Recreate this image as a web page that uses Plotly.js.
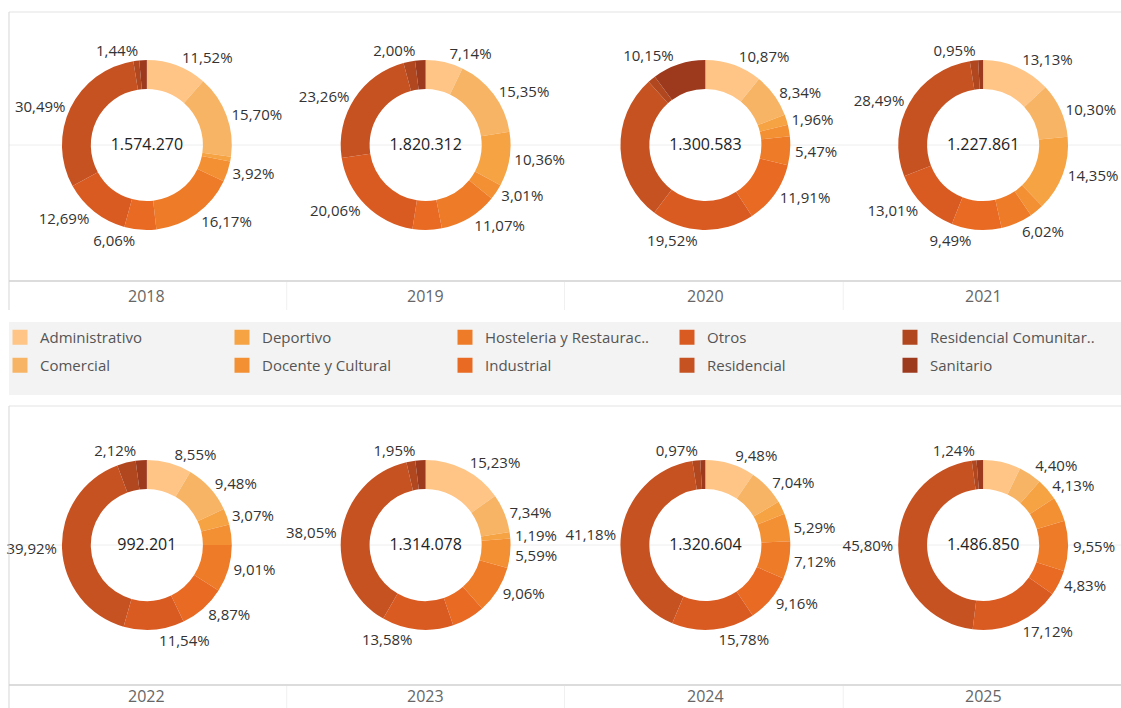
<!DOCTYPE html>
<html>
<head>
<meta charset="utf-8">
<script src="https://cdn.plot.ly/plotly-3.0.1.min.js"></script>
<style>
html,body{margin:0;padding:0;background:#ffffff;}
#chart{width:1121px;height:708px;}
#chart path.textline{display:none;}
</style>
</head>
<body>
<div id="chart"></div>
<script>
// ---------- DATA ----------
const categories = ['Administrativo','Comercial','Deportivo','Docente y Cultural','Hosteleria y Restauración','Industrial','Otros','Residencial','Residencial Comunitaria','Sanitario'];
const legendNames = ['Administrativo','Comercial','Deportivo','Docente y Cultural','Hosteleria y Restaurac..','Industrial','Otros','Residencial','Residencial Comunitar..','Sanitario'];
const years = ['2018','2019','2020','2021','2022','2023','2024','2025'];
const totals = ['1.574.270','1.820.312','1.300.583','1.227.861','992.201','1.314.078','1.320.604','1.486.850'];

// share (%) per category, in category order
const pct2018 = [11.52, 15.70, 0.90, 3.92, 16.17, 6.06, 12.69, 30.49, 1.11, 1.44];
const pct2019 = [7.14, 15.35, 10.36, 3.01, 11.07, 5.55, 20.06, 23.26, 2.20, 2.00];
const pct2020 = [10.87, 8.34, 1.96, 2.20, 5.47, 11.91, 19.52, 28.08, 1.50, 10.15];
const pct2021 = [13.13, 10.30, 14.35, 2.70, 6.02, 9.49, 13.01, 28.49, 1.56, 0.95];
const pct2022 = [8.55, 9.48, 3.07, 3.90, 9.01, 8.87, 11.54, 39.92, 3.54, 2.12];
const pct2023 = [15.23, 7.34, 1.19, 5.59, 9.06, 6.32, 13.58, 38.05, 1.69, 1.95];
const pct2024 = [9.48, 7.04, 2.50, 5.29, 7.12, 9.16, 15.78, 41.18, 1.48, 0.97];
const pct2025 = [7.15, 4.40, 4.13, 4.68, 9.55, 4.83, 17.12, 45.80, 0.90, 1.24];

// category indexes whose label is not printed in the reference
const hidden2018 = [2, 8];
const hidden2019 = [5, 8];
const hidden2020 = [3, 7, 8];
const hidden2021 = [3, 8];
const hidden2022 = [3, 8];
const hidden2023 = [5, 8];
const hidden2024 = [2, 8];
const hidden2025 = [0, 3, 8];

// ---------- STYLE ----------
const colors = ['#fec586','#f7b465','#f6a344','#f39034','#ee7b27','#e86a23','#da5b22','#c65222','#b0471f','#9d3a1e'];
const W = 1121, H = 708;
const FONT = 'Open Sans, Noto Sans, sans-serif';
const px = x => x / W;
const py = y => 1 - y / H;

const allPct = [pct2018,pct2019,pct2020,pct2021,pct2022,pct2023,pct2024,pct2025];
const allHidden = [hidden2018,hidden2019,hidden2020,hidden2021,hidden2022,hidden2023,hidden2024,hidden2025];

const colX = [146, 425, 705, 983];
const rowY = [145, 545];
const R = 85;

const fmt = v => v.toFixed(2).replace('.', ',') + '%';

const traces = [];
allPct.forEach((vals, i) => {
  const cx = colX[i % 4], cy = rowY[Math.floor(i / 4)];
  traces.push({
    type: 'pie',
    name: years[i],
    labels: categories,
    values: vals,
    text: vals.map((v, k) => allHidden[i].includes(k) ? '' : fmt(v)),
    textinfo: 'text',
    textposition: 'outside',
    outsidetextfont: {family: FONT, size: 15, color: '#333333'},
    hole: 0.66,
    sort: false,
    direction: 'clockwise',
    rotation: 0,
    showlegend: false,
    marker: {colors: colors, line: {width: 0}},
    title: {text: totals[i], position: 'middle center', font: {family: FONT, size: 16, color: '#222222'}},
    domain: {x: [px(cx - R), px(cx + R)], y: [py(cy + R), py(cy - R)]},
    hovertemplate: '%{label}: %{text}<extra>' + years[i] + '</extra>'
  });
});

// legend-only entries: 5 columns of 2 entries, as in the reference
const legendIds = ['legend','legend2','legend3','legend4','legend5'];
const legendColLeft = [-1, 222, 445, 667, 890];
categories.forEach((c, k) => {
  traces.push({
    type: 'scatter', mode: 'markers',
    x: [null], y: [null],
    name: legendNames[k],
    legendgroup: 'g' + k,
    marker: {symbol: 'square', size: 15, color: colors[k]},
    legend: legendIds[Math.floor(k / 2)],
    showlegend: true,
    hoverinfo: 'skip'
  });
});

const lineC = '#e3e3e3';
const shapes = [
  // top panel
  {type:'line', xref:'paper', yref:'paper', x0:px(8), x1:px(1121), y0:py(12), y1:py(12), line:{color:lineC, width:1}},
  {type:'line', xref:'paper', yref:'paper', x0:px(8), x1:px(8), y0:py(12), y1:py(310), line:{color:'#d6d6d6', width:1}},
  {type:'line', xref:'paper', yref:'paper', x0:px(8), x1:px(1121), y0:py(rowY[0]), y1:py(rowY[0]), line:{color:'#eeeeee', width:1}, layer:'below'},
  {type:'line', xref:'paper', yref:'paper', x0:px(8), x1:px(1121), y0:py(281), y1:py(281), line:{color:'#d0d0d0', width:1.5}},
  // legend background
  {type:'rect', xref:'paper', yref:'paper', x0:px(8), x1:px(1121), y0:py(395), y1:py(322), fillcolor:'#f3f3f3', line:{width:0}, layer:'below'},
  // bottom panel
  {type:'line', xref:'paper', yref:'paper', x0:px(8), x1:px(1121), y0:py(406), y1:py(406), line:{color:lineC, width:1}},
  {type:'line', xref:'paper', yref:'paper', x0:px(8), x1:px(8), y0:py(406), y1:py(708), line:{color:'#d6d6d6', width:1}},
  {type:'line', xref:'paper', yref:'paper', x0:px(8), x1:px(1121), y0:py(rowY[1]), y1:py(rowY[1]), line:{color:'#eeeeee', width:1}, layer:'below'},
  {type:'line', xref:'paper', yref:'paper', x0:px(8), x1:px(1121), y0:py(685), y1:py(685), line:{color:'#d0d0d0', width:1.5}}
];
[286, 564, 843].forEach(x => {
  shapes.push({type:'line', xref:'paper', yref:'paper', x0:px(x), x1:px(x), y0:py(282), y1:py(310), line:{color:'#f0f0f0', width:1}});
  shapes.push({type:'line', xref:'paper', yref:'paper', x0:px(x), x1:px(x), y0:py(686), y1:py(708), line:{color:'#f0f0f0', width:1}});
});

const annotations = years.map((y, i) => ({
  text: y, showarrow: false, xref:'paper', yref:'paper',
  x: px(colX[i % 4]), y: py(i < 4 ? 296 : 696),
  xanchor:'center', yanchor:'middle',
  font: {family: FONT, size: 16, color: '#666666'}
}));

const layout = {
  width: W, height: H,
  margin: {l:0, r:0, t:0, b:0, pad:0},
  paper_bgcolor: '#ffffff', plot_bgcolor: 'rgba(0,0,0,0)',
  font: {family: FONT},
  xaxis: {visible: false}, yaxis: {visible: false},
  showlegend: true,
  shapes: shapes,
  annotations: annotations
};
legendIds.forEach((id, j) => {
  layout[id] = {
    orientation: 'v', xanchor: 'left', yanchor: 'top',
    x: px(legendColLeft[j]), y: py(321),
    tracegroupgap: 5.5,
    bgcolor: 'rgba(0,0,0,0)', borderwidth: 0,
    font: {family: FONT, size: 15, color: '#555555'},
    itemclick: false, itemdoubleclick: false
  };
});

Plotly.newPlot('chart', traces, layout, {displayModeBar: false});
</script>
</body>
</html>
